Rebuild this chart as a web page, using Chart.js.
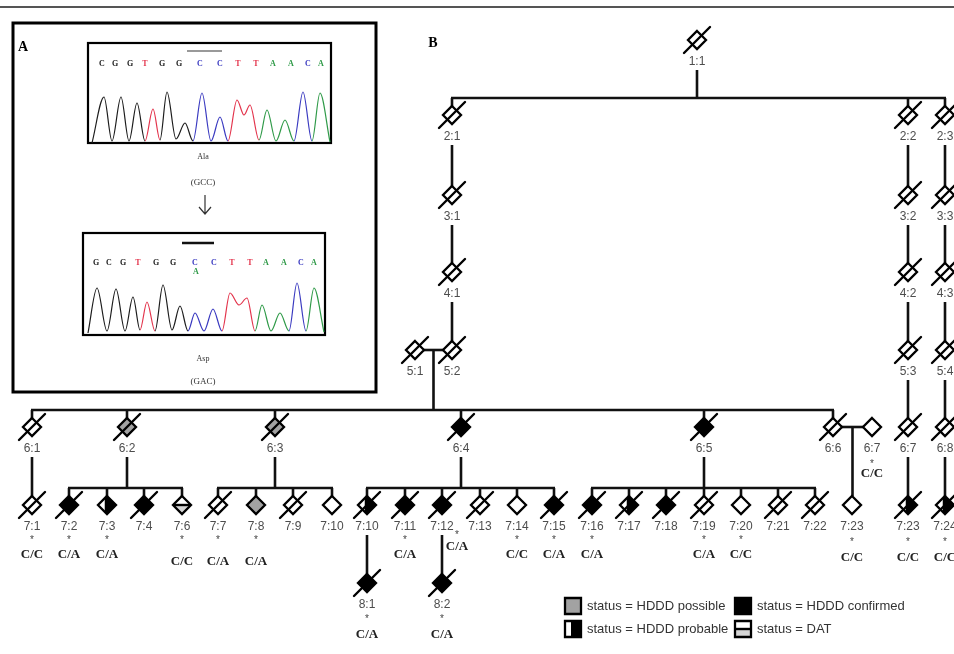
<!DOCTYPE html>
<html>
<head>
<meta charset="utf-8">
<script src="https://cdn.jsdelivr.net/npm/chart.js@4.4.1/dist/chart.umd.min.js"></script>
<style>
html, body { margin: 0; padding: 0; background: #fff; }
canvas { display: block; }
</style>
</head>
<body>
<canvas id="myChart" width="954" height="654"></canvas>
<script>
// --- pedigree (panel B) ---
const ids = ['1:1', '2:1', '2:2', '2:3', '3:1', '3:2', '3:3', '4:1', '4:2', '4:3',
	'5:1', '5:2', '5:3', '5:4',
	'6:1', '6:2', '6:3', '6:4', '6:5', '6:6', '6:7', '6:7', '6:8',
	'7:1', '7:2', '7:3', '7:4', '7:6', '7:7', '7:8', '7:9', '7:10', '7:10', '7:11', '7:12',
	'7:13', '7:14', '7:15', '7:16', '7:17', '7:18', '7:19', '7:20', '7:21', '7:22', '7:23',
	'7:23', '7:24', '8:1', '8:2'];
const posX = [697, 452, 908, 945, 452, 908, 945, 452, 908, 945,
	415, 452, 908, 945,
	32, 127, 275, 461, 704, 833, 872, 908, 945,
	32, 69, 107, 144, 182, 218, 256, 293, 332, 367, 405, 442,
	480, 517, 554, 592, 629, 666, 704, 741, 778, 815, 852,
	908, 945, 367, 442];
const generation = [1, 2, 2, 2, 3, 3, 3, 4, 4, 4,
	5, 5, 5, 5,
	6, 6, 6, 6, 6, 6, 6, 6, 6,
	7, 7, 7, 7, 7, 7, 7, 7, 7, 7, 7, 7,
	7, 7, 7, 7, 7, 7, 7, 7, 7, 7, 7,
	7, 7, 8, 8];
// n = not affected, p = HDDD possible, b = HDDD probable, c = HDDD confirmed, d = DAT
const status = ['n', 'n', 'n', 'n', 'n', 'n', 'n', 'n', 'n', 'n',
	'n', 'n', 'n', 'n',
	'n', 'p', 'p', 'c', 'c', 'n', 'n', 'n', 'n',
	'n', 'c', 'b', 'c', 'd', 'n', 'p', 'n', 'n', 'b', 'c', 'c',
	'n', 'n', 'c', 'c', 'b', 'c', 'n', 'n', 'n', 'n', 'n',
	'b', 'b', 'c', 'c'];
const deceased = [1, 1, 1, 1, 1, 1, 1, 1, 1, 1,
	1, 1, 1, 1,
	1, 1, 1, 1, 1, 1, 0, 1, 1,
	1, 1, 0, 1, 0, 1, 0, 1, 0, 1, 1, 1,
	1, 0, 1, 1, 1, 1, 1, 0, 1, 1, 0,
	1, 1, 1, 1];
const genotype = ['', '', '', '', '', '', '', '', '', '',
	'', '', '', '',
	'', '', '', '', '', '', 'C/C', '', '',
	'C/C', 'C/A', 'C/A', '', 'C/C', 'C/A', 'C/A', '', '', '', 'C/A', 'C/A',
	'', 'C/C', 'C/A', 'C/A', '', '', 'C/A', 'C/C', '', '', 'C/C',
	'C/C', 'C/C', 'C/A', 'C/A'];
// parents (index into ids, -1 = none); two parents = couple
const parentA = [-1, 0, 0, 0, 1, 2, 3, 4, 5, 6,
	-1, 7, 8, 9,
	10, 10, 10, 10, 10, 10, -1, 12, 13,
	14, 15, 15, 15, 15, 16, 16, 16, 16, 17, 17, 17,
	17, 17, 17, 18, 18, 18, 18, 18, 18, 18, 19,
	21, 22, 32, 34];
const parentB = [-1, -1, -1, -1, -1, -1, -1, -1, -1, -1,
	-1, -1, -1, -1,
	11, 11, 11, 11, 11, 11, -1, -1, -1,
	-1, -1, -1, -1, -1, -1, -1, -1, -1, -1, -1, -1,
	-1, -1, -1, -1, -1, -1, -1, -1, -1, -1, 20,
	-1, -1, -1, -1];
const genLevelY = [40, 115, 195, 272, 350, 427, 505, 583];

const legendLabels = ['status = HDDD possible', 'status = HDDD confirmed',
	'status = HDDD probable', 'status = DAT'];
const legendStatus = ['p', 'c', 'b', 'd'];

// --- sequencing traces (panel A) ---
const topTraceX = [92, 104, 112, 121, 129, 137, 145, 153, 160, 167, 176, 185, 193, 202, 211,
	220, 228, 237, 244, 250, 259, 267, 276, 285, 294, 303, 312, 320, 330];
const topTraceY = [143, 97, 141, 97, 141, 103, 141, 109, 140, 92, 139, 123, 141, 93, 141,
	117, 141, 100, 115, 105, 140, 110, 141, 120, 141, 92, 141, 93, 142];
const botTraceX = [88, 97, 107, 116, 125, 133, 140, 147, 155, 163, 172, 180, 188, 195, 204,
	213, 222, 230, 239, 247, 255, 262, 271, 280, 289, 297, 306, 314, 324];
const botTraceY = [333, 288, 331, 289, 331, 297, 330, 302, 331, 285, 330, 306, 331, 313, 331,
	309, 331, 293, 305, 298, 331, 305, 331, 313, 331, 283, 331, 288, 332];
const peakDyes = ['G', 'G', 'G', 'T', 'G', 'G', 'C', 'C', 'T', 'T', 'A', 'A', 'C', 'A'];
const topCalls = ['C', 'G', 'G', 'T', 'G', 'G', 'C', 'C', 'T', 'T', 'A', 'A', 'C', 'A'];
const botCalls = ['G', 'C', 'G', 'T', 'G', 'G', 'C', 'C', 'T', 'T', 'A', 'A', 'C', 'A'];
const topCallX = [102, 115, 130, 145, 162, 179, 200, 220, 238, 256, 273, 291, 308, 321];
const botCallX = [96, 109, 123, 138, 156, 173, 195, 214, 232, 250, 266, 284, 301, 314];

const dyeColor = { G: '#1c1c1c', T: '#e3344c', C: '#3a3ac0', A: '#2f9a48' };

function paintSymbol(c, cx, cy, r, st, square) {
	c.save();
	c.beginPath();
	if (square) {
		c.rect(cx - r, cy - r, 2 * r, 2 * r);
	} else {
		c.moveTo(cx, cy - r);
		c.lineTo(cx + r, cy);
		c.lineTo(cx, cy + r);
		c.lineTo(cx - r, cy);
		c.closePath();
	}
	c.fillStyle = st === 'c' ? '#000' : st === 'p' ? '#a2a2a2' : '#fff';
	c.fill();
	if (st === 'b' || st === 'd') {
		c.save();
		c.clip();
		if (st === 'b') {
			c.fillStyle = '#000';
			c.fillRect(cx - r * 0.25, cy - r, r * 1.3 + 1, 2 * r);
		} else {
			c.fillStyle = '#d6d6d6';
			c.fillRect(cx - r, cy, 2 * r, r);
			c.fillStyle = '#000';
			c.fillRect(cx - r, cy - 1.2, 2 * r, 2.4);
		}
		c.restore();
	}
	c.lineWidth = 2.3;
	c.strokeStyle = '#000';
	c.lineJoin = 'miter';
	c.stroke();
	c.restore();
}

const icons = {};
['n', 'p', 'b', 'c', 'd'].forEach((st) => {
	[0, 1].forEach((dead) => {
		const cv = document.createElement('canvas');
		cv.width = 36;
		cv.height = 36;
		const c = cv.getContext('2d');
		paintSymbol(c, 18, 18, 9, st, false);
		if (dead) {
			c.beginPath();
			c.moveTo(5, 31);
			c.lineTo(31, 5);
			c.lineWidth = 2.4;
			c.lineCap = 'round';
			c.strokeStyle = '#000';
			c.stroke();
		}
		icons[st + dead] = cv;
	});
});

const nodeY = (i) => genLevelY[generation[i] - 1];

// connector segments built from the parent links
const segments = [];
const families = {};
ids.forEach((id, i) => {
	if (parentA[i] < 0) return;
	const key = parentA[i] + '|' + parentB[i];
	(families[key] = families[key] || []).push(i);
});
Object.keys(families).forEach((key) => {
	const kids = families[key];
	const a = +key.split('|')[0];
	const b = +key.split('|')[1];
	let dx, dy0;
	if (b >= 0) {
		const xl = Math.min(posX[a], posX[b]);
		const xr = Math.max(posX[a], posX[b]);
		segments.push([[xl + 8, nodeY(a)], [xr - 8, nodeY(a)]]);
		dx = (posX[a] + posX[b]) / 2;
		dy0 = nodeY(a);
	} else {
		dx = posX[a];
		dy0 = nodeY(a) + 30;
	}
	const cy = nodeY(kids[0]);
	if (kids.length === 1 && Math.abs(posX[kids[0]] - dx) < 2) {
		segments.push([[dx, dy0], [dx, cy - 9]]);
		return;
	}
	const sib = cy - 17;
	segments.push([[dx, dy0], [dx, sib]]);
	const xs = kids.map((k) => posX[k]).concat([dx]);
	segments.push([[Math.min(...xs) - 1, sib], [Math.max(...xs) + 1, sib]]);
	kids.forEach((k) => segments.push([[posX[k], sib], [posX[k], cy - 9]]));
});

const lineSets = segments.map((s) => ({
	data: s.map((p) => ({ x: p[0], y: p[1] })),
	showLine: true,
	pointRadius: 0,
	borderColor: '#111',
	borderWidth: 2.6,
	order: 2
}));

function traceSet(xs, ys) {
	return {
		data: xs.map((x, i) => ({ x: x, y: ys[i] })),
		showLine: true,
		pointRadius: 0,
		borderWidth: 1.2,
		cubicInterpolationMode: 'monotone',
		borderColor: '#222',
		segment: {
			borderColor: (ctx) => dyeColor[peakDyes[Math.floor(ctx.p0DataIndex / 2)]]
		},
		order: 1
	};
}

// genotype text shifts for a few individuals: [dx, starDy, textDy]
const gtShift = { 20: [0, 35, 47], 27: [0, 33, 57], 28: [0, 33, 57], 29: [0, 33, 57],
	34: [15, 28, 42], 45: [0, 35, 53], 46: [0, 35, 53], 47: [0, 35, 53], 48: [0, 34, 52], 49: [0, 34, 52] };

const decor = {
	id: 'decor',
	beforeDatasetsDraw(chart) {
		const c = chart.ctx;
		const X = (v) => chart.scales.x.getPixelForValue(v);
		const Y = (v) => chart.scales.y.getPixelForValue(v);
		c.save();
		c.strokeStyle = '#555';
		c.lineWidth = 2;
		c.beginPath();
		c.moveTo(X(0), Y(7));
		c.lineTo(X(954), Y(7));
		c.stroke();
		c.strokeStyle = '#000';
		c.lineWidth = 3;
		c.strokeRect(X(13), Y(23), X(376) - X(13), Y(392) - Y(23));
		c.lineWidth = 2.2;
		c.strokeRect(X(88), Y(43), X(331) - X(88), Y(143) - Y(43));
		c.strokeRect(X(83), Y(233), X(325) - X(83), Y(335) - Y(233));
		c.restore();
	},
	afterDatasetsDraw(chart) {
		const c = chart.ctx;
		const X = (v) => chart.scales.x.getPixelForValue(v);
		const Y = (v) => chart.scales.y.getPixelForValue(v);
		c.save();
		c.textAlign = 'center';
		c.textBaseline = 'middle';

		// panel A
		c.fillStyle = '#000';
		c.font = 'bold 14px "Liberation Serif"';
		c.fillText('A', X(23), Y(47));
		c.fillText('B', X(433), Y(43));
		c.strokeStyle = '#777';
		c.lineWidth = 1.5;
		c.beginPath();
		c.moveTo(X(187), Y(51));
		c.lineTo(X(222), Y(51));
		c.stroke();
		c.strokeStyle = '#111';
		c.lineWidth = 2.5;
		c.beginPath();
		c.moveTo(X(182), Y(243));
		c.lineTo(X(214), Y(243));
		c.stroke();
		c.font = 'bold 8px "Liberation Serif"';
		topCalls.forEach((b, i) => {
			c.fillStyle = dyeColor[peakDyes[i]];
			c.fillText(b, X(topCallX[i]), Y(64));
		});
		botCalls.forEach((b, i) => {
			c.fillStyle = dyeColor[peakDyes[i]];
			c.fillText(b, X(botCallX[i]), Y(263));
		});
		c.fillStyle = dyeColor.A;
		c.fillText('A', X(196), Y(272));
		c.fillStyle = '#333';
		c.font = '8px "Liberation Serif"';
		c.fillText('Ala', X(203), Y(157));
		c.fillText('Asp', X(203), Y(359));
		c.font = '9px "Liberation Serif"';
		c.fillText('(GCC)', X(203), Y(183));
		c.fillText('(GAC)', X(203), Y(382));
		c.strokeStyle = '#333';
		c.lineWidth = 1.2;
		c.beginPath();
		c.moveTo(X(205), Y(195));
		c.lineTo(X(205), Y(214));
		c.moveTo(X(199), Y(207));
		c.lineTo(X(205), Y(214));
		c.lineTo(X(211), Y(207));
		c.stroke();

		// pedigree labels
		ids.forEach((id, i) => {
			const x = posX[i];
			const y = nodeY(i);
			c.font = '12px "Liberation Sans"';
			c.fillStyle = '#4d4d4d';
			c.fillText(id, X(x), Y(y + 22));
			if (genotype[i]) {
				const s = gtShift[i] || [0, 33, 50];
				c.font = '10px "Liberation Sans"';
				c.fillStyle = '#444';
				c.fillText('*', X(x + s[0]), Y(y + s[1] + 2));
				c.font = 'bold 13px "Liberation Serif"';
				c.fillStyle = '#222';
				c.fillText(genotype[i], X(x + s[0]), Y(y + s[2]));
			}
		});

		// legend
		c.textAlign = 'left';
		c.font = '13px "Liberation Sans"';
		legendLabels.forEach((lab, i) => {
			const bx = i % 2 === 0 ? 573 : 743;
			const by = i < 2 ? 606 : 629;
			paintSymbol(c, X(bx), Y(by), 8, legendStatus[i], true);
			c.fillStyle = '#333';
			c.fillText(lab, X(bx + 14), Y(by));
		});
		c.restore();
	}
};

const ctx = document.getElementById('myChart').getContext('2d');

const myChart = new Chart(ctx, {
	type: 'scatter',
	data: {
		datasets: [
			{
				label: 'individuals',
				data: ids.map((id, i) => ({ x: posX[i], y: nodeY(i) })),
				pointStyle: (p) => icons[status[p.dataIndex] + deceased[p.dataIndex]],
				pointRadius: 10,
				order: 0
			},
			traceSet(topTraceX, topTraceY),
			traceSet(botTraceX, botTraceY)
		].concat(lineSets)
	},
	options: {
		responsive: false,
		animation: false,
		events: [],
		layout: { padding: 0, autoPadding: false },
		plugins: { legend: { display: false }, tooltip: { enabled: false } },
		scales: {
			x: { type: 'linear', min: 0, max: 954, display: false },
			y: { type: 'linear', min: 0, max: 654, reverse: true, display: false }
		}
	},
	plugins: [decor]
});
</script>
</body>
</html>
